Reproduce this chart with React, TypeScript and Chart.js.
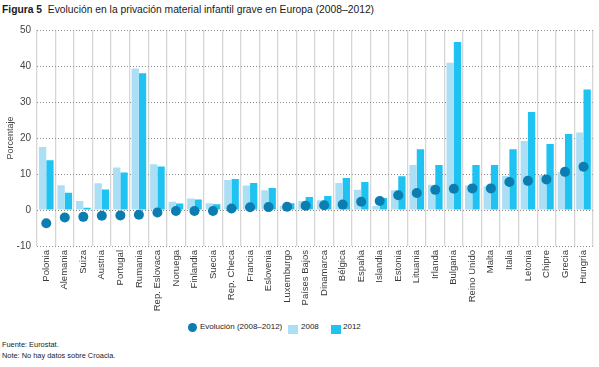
import React, { useEffect, useRef } from "react";
import { Chart, registerables } from "chart.js";

Chart.register(...registerables);

const countries = [
  "Polonia", "Alemania", "Suiza", "Austria", "Portugal", "Rumania", "Rep. Eslovaca",
  "Noruega", "Finlandia", "Suecia", "Rep. Checa", "Francia", "Eslovenia", "Luxemburgo",
  "Países Bajos", "Dinamarca", "Bélgica", "España", "Islandia", "Estonia", "Lituania",
  "Irlanda", "Bulgaria", "Reino Unido", "Malta", "Italia", "Letonia", "Chipre", "Grecia", "Hungría",
];

const values2008 = [
  17.5, 6.9, 2.5, 7.4, 11.8, 39.3, 12.7, 2.3, 3.2, 1.9, 8.3, 6.8, 5.5, 1.2, 2.5,
  2.7, 7.5, 5.6, 1.1, 5.5, 12.5, 7.0, 40.9, 6.8, 6.6, 9.5, 19.2, 9.7, 10.5, 21.5,
];

const values2012 = [
  13.8, 4.8, 0.6, 5.7, 10.4, 38.0, 12.1, 1.8, 2.9, 1.6, 8.6, 7.5, 6.1, 1.9, 3.6,
  3.9, 8.9, 7.8, 3.3, 9.4, 16.9, 12.5, 46.7, 12.5, 12.5, 16.9, 27.2, 18.3, 21.1, 33.5,
];

const evolution = [
  -3.7, -2.1, -1.9, -1.6, -1.5, -1.3, -0.7, -0.3, -0.3, -0.3, 0.4, 0.75, 0.8, 0.9, 1.2,
  1.3, 1.5, 2.3, 2.5, 4.1, 4.7, 5.6, 5.9, 6.0, 6.0, 7.8, 8.1, 8.5, 10.6, 12.0,
];

const yTicks = [50, 40, 30, 20, 10, 0, -10];

const FONT = "'Liberation Sans', Arial, Helvetica, sans-serif";
const C2008 = "#abdff6";
const C2012 = "#1fc3f2";
const CDOT = "#0b7db0";

export default function App() {
  const canvasRef = useRef<HTMLCanvasElement | null>(null);

  useEffect(() => {
    document.body.style.margin = "0";
    const ctx = canvasRef.current;
    if (!ctx) return;
    const chart = new Chart(ctx, {
      type: "bar",
      data: {
        labels: countries,
        datasets: [
          {
            type: "line",
            label: "Evolución (2008–2012)",
            data: evolution,
            showLine: false,
            pointRadius: 5,
            pointHoverRadius: 5,
            pointBackgroundColor: CDOT,
            pointBorderWidth: 0,
            borderColor: CDOT,
            backgroundColor: CDOT,
            order: 0,
          } as any,
          {
            label: "2008",
            data: values2008,
            backgroundColor: C2008,
            categoryPercentage: 0.79,
            barPercentage: 1.0,
            order: 1,
          },
          {
            label: "2012",
            data: values2012,
            backgroundColor: C2012,
            categoryPercentage: 0.79,
            barPercentage: 1.0,
            order: 1,
          },
        ],
      },
      options: {
        animation: false,
        responsive: false,
        maintainAspectRatio: false,
        layout: { padding: { top: 30, right: 6, left: 0, bottom: 0 } },
        plugins: {
          legend: { display: false },
          tooltip: { enabled: false },
          title: { display: false },
        },
        scales: {
          x: {
            offset: true,
            grid: {
              display: true,
              offset: true,
              color: "#d6d6d6",
              lineWidth: 1.3,
              drawTicks: false,
            },
            border: { display: false },
            ticks: {
              autoSkip: false,
              minRotation: 90,
              maxRotation: 90,
              padding: 4,
              color: "#3a3a3a",
              font: { family: FONT, size: 9.5 },
            },
            afterFit: (scale: any) => {
              scale.height = 74;
            },
          },
          y: {
            min: -10,
            max: 50,
            afterBuildTicks: (scale: any) => {
              scale.ticks = yTicks.map((v) => ({ value: v }));
            },
            grid: {
              color: "#8a8a8a",
              lineWidth: 1,
              drawTicks: false,
              borderDash: [1, 2],
            } as any,
            border: { display: false, dash: [1, 2], dashOffset: 0 },
            ticks: {
              padding: 6,
              color: "#444",
              font: { family: FONT, size: 10 },
            },
            title: {
              display: true,
              text: "Porcentaje",
              color: "#444",
              font: { family: FONT, size: 9 },
              padding: { top: 5, bottom: 0 },
            },
            afterFit: (scale: any) => {
              scale.width = 37;
            },
          },
        },
      },
    });
    return () => chart.destroy();
  }, []);

  const small: React.CSSProperties = {
    position: "absolute",
    fontFamily: FONT,
    fontSize: 7.4,
    color: "#222",
    whiteSpace: "nowrap",
    lineHeight: "10px",
  };

  return (
    <div style={{ position: "relative", width: 599, height: 367, background: "#fff", overflow: "hidden" }}>
      <div
        style={{
          position: "absolute",
          left: 2,
          top: 3,
          fontFamily: FONT,
          fontSize: 10.3,
          color: "#1a1a1a",
          whiteSpace: "nowrap",
          lineHeight: "14px",
        }}
      >
        <b>Figura 5</b>&nbsp;&nbsp;Evolución en la privación material infantil grave en Europa (2008–2012)
      </div>
      <canvas
        ref={canvasRef}
        width={599}
        height={320}
        style={{ position: "absolute", left: 0, top: 0, width: 599, height: 320 }}
      />
      <div style={{ position: "absolute", left: 188, top: 323, width: 9, height: 9, borderRadius: "50%", background: CDOT }} />
      <div style={{ ...small, left: 200, top: 322, fontSize: 8 }}>Evolución (2008–2012)</div>
      <div style={{ position: "absolute", left: 288, top: 325, width: 10, height: 9, background: C2008 }} />
      <div style={{ ...small, left: 301, top: 322, fontSize: 8 }}>2008</div>
      <div style={{ position: "absolute", left: 331, top: 325, width: 10, height: 9, background: C2012 }} />
      <div style={{ ...small, left: 343, top: 322, fontSize: 8 }}>2012</div>
      <div style={{ ...small, left: 2, top: 340 }}>Fuente: Eurostat.</div>
      <div style={{ ...small, left: 2, top: 351 }}>Note: No hay datos sobre Croacia.</div>
    </div>
  );
}
